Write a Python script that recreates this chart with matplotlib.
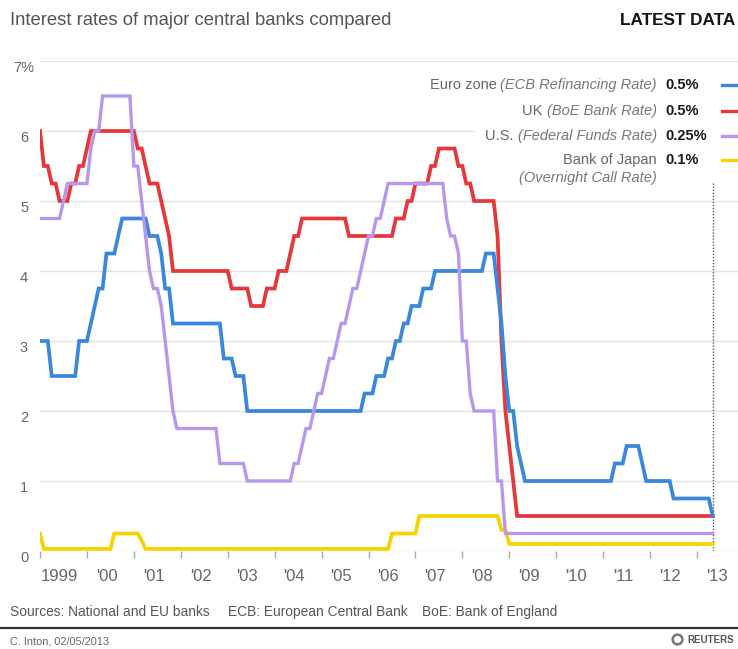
import numpy as np
import matplotlib
matplotlib.use("Agg")
import matplotlib.pyplot as plt
from matplotlib.lines import Line2D
from matplotlib.patches import Rectangle
from matplotlib.text import Annotation

plt.rcParams["font.family"] = ["Liberation Sans", "DejaVu Sans"]

# --- policy rate changes (month the new rate shows up, rate in %) ---
ECB_DATES = ["1999-01", "1999-04", "1999-11", "2000-02", "2000-03", "2000-04", "2000-06",
             "2000-09", "2000-10", "2001-05", "2001-08", "2001-09", "2001-11", "2002-12",
             "2003-03", "2003-06", "2005-12", "2006-03", "2006-06", "2006-08", "2006-10",
             "2006-12", "2007-03", "2007-06", "2008-07", "2008-10", "2008-11", "2008-12",
             "2009-01", "2009-03", "2009-04", "2009-05", "2011-04", "2011-07", "2011-11",
             "2011-12", "2012-07", "2013-05"]
ECB_RATES = [3.0, 2.5, 3.0, 3.25, 3.5, 3.75, 4.25,
             4.5, 4.75, 4.5, 4.25, 3.75, 3.25, 2.75,
             2.5, 2.0, 2.25, 2.5, 2.75, 3.0, 3.25,
             3.5, 3.75, 4.0, 4.25, 3.75, 3.25, 2.5,
             2.0, 1.5, 1.25, 1.0, 1.25, 1.5, 1.25,
             1.0, 0.75, 0.5]

BOE_DATES = ["1999-01", "1999-02", "1999-04", "1999-06", "1999-09", "1999-11", "2000-01",
             "2000-02", "2001-02", "2001-04", "2001-05", "2001-08", "2001-09", "2001-10",
             "2001-11", "2003-02", "2003-07", "2003-11", "2004-02", "2004-05", "2004-06",
             "2004-08", "2005-08", "2006-08", "2006-11", "2007-01", "2007-05", "2007-07",
             "2007-12", "2008-02", "2008-04", "2008-10", "2008-11", "2008-12", "2009-01",
             "2009-02", "2009-03"]
BOE_RATES = [6.0, 5.5, 5.25, 5.0, 5.25, 5.5, 5.75,
             6.0, 5.75, 5.5, 5.25, 5.0, 4.75, 4.5,
             4.0, 3.75, 3.5, 3.75, 4.0, 4.25, 4.5,
             4.75, 4.5, 4.75, 5.0, 5.25, 5.5, 5.75,
             5.5, 5.25, 5.0, 4.5, 3.0, 2.0, 1.5,
             1.0, 0.5]

FED_DATES = ["1999-01", "1999-07", "1999-08", "2000-02", "2000-03", "2000-05", "2001-01",
             "2001-03", "2001-04", "2001-05", "2001-06", "2001-08", "2001-09", "2001-10",
             "2001-11", "2001-12", "2002-11", "2003-06", "2004-06", "2004-08", "2004-09",
             "2004-11", "2004-12", "2005-02", "2005-03", "2005-05", "2005-06", "2005-08",
             "2005-09", "2005-11", "2005-12", "2006-01", "2006-03", "2006-05", "2006-06",
             "2007-09", "2007-10", "2007-12", "2008-01", "2008-03", "2008-04", "2008-10",
             "2008-12"]
FED_RATES = [4.75, 5.0, 5.25, 5.75, 6.0, 6.5, 5.5,
             5.0, 4.5, 4.0, 3.75, 3.5, 3.0, 2.5,
             2.0, 1.75, 1.25, 1.0, 1.25, 1.5, 1.75,
             2.0, 2.25, 2.5, 2.75, 3.0, 3.25, 3.5,
             3.75, 4.0, 4.25, 4.5, 4.75, 5.0, 5.25,
             4.75, 4.5, 4.25, 3.0, 2.25, 2.0, 1.0,
             0.25]

BOJ_DATES = ["1999-01", "1999-02", "2000-08", "2001-03", "2001-04", "2006-07", "2007-02",
             "2008-11", "2009-01"]
BOJ_RATES = [0.25, 0.03, 0.25, 0.15, 0.03, 0.25, 0.5,
             0.3, 0.1]

LAST_MONTH = "2013-05"

SERIES_NAMES = ["Euro zone ", "UK ", "U.S. ", "Bank of Japan"]
SERIES_NOTES = ["(ECB Refinancing Rate)", "(BoE Bank Rate)", "(Federal Funds Rate)", ""]
SERIES_COLORS = ["#3a88de", "#e5383b", "#b797ec", "#f6d200"]

YEARS = list(range(1999, 2014))
YEAR_LABELS = ["1999"] + ["'%02d" % (y % 100) for y in YEARS[1:]]


def month_index(s):
    y, m = s.split("-")
    return (int(y) - 1999) * 12 + int(m) - 1


def monthly(dates, rates, months):
    starts = np.array([month_index(d) for d in dates])
    idx = np.searchsorted(starts, months, side="right") - 1
    return np.asarray(rates)[idx]


months = np.arange(0, month_index(LAST_MONTH) + 1)
x = 1999 + months / 12.0
series = [monthly(ECB_DATES, ECB_RATES, months),
          monthly(BOE_DATES, BOE_RATES, months),
          monthly(FED_DATES, FED_RATES, months),
          monthly(BOJ_DATES, BOJ_RATES, months)]

W, H = 738, 649
fig = plt.figure(figsize=(W / 100, H / 100), dpi=100)


def fx(px):
    return px / W


def fy(py):
    return 1 - py / H


ax = fig.add_axes([fx(40), fy(551), 1 - fx(40), fy(61) - fy(551)])
ax.set_xlim(1999, 1999 + 698 / 46.93)
ax.set_ylim(0, 7)
for s in ax.spines.values():
    s.set_visible(False)

ax.set_yticks(range(8))
ax.set_yticklabels(["0", "1", "2", "3", "4", "5", "6", "7%"])
ax.yaxis.grid(True, color="#e3e3e3", lw=1)
ax.set_axisbelow(True)
ax.tick_params(axis="y", length=0, pad=11.5, labelsize=10.5, labelcolor="#666")
for lab in ax.get_yticklabels():
    lab.set_horizontalalignment("center")
    lab.set_verticalalignment("top")

ax.set_xticks(YEARS)
ax.set_xticklabels([])
ax.set_xticks([y + 0.42 for y in YEARS], minor=True)
ax.set_xticklabels(YEAR_LABELS, minor=True)
ax.tick_params(axis="x", which="major", length=5, width=1, color="#aaaaaa")
ax.tick_params(axis="x", which="minor", length=0, pad=13, labelsize=12, labelcolor="#666")

# drawing order: Japan at the back, then UK, euro zone and U.S.
for i in [3, 1, 0, 2]:
    ax.plot(x, series[i], color=SERIES_COLORS[i], lw=2.4 if i == 2 else 2.7,
            solid_joinstyle="miter", zorder=3)

# dotted marker for the latest data point
ax.vlines(x[-1], 0, 5.3, colors="#555555", linestyles=(0, (1, 1.2)), lw=1, zorder=1.5)

# white panel behind the key
ax.add_patch(Rectangle((fx(476), fy(182)), 1 - fx(476), fy(72) - fy(182),
                       transform=fig.transFigure, facecolor="white", edgecolor="none",
                       clip_on=False, zorder=2))

# key rows
row_y = [85, 111, 136, 160]
for name, note, rate, color, yy in zip(SERIES_NAMES, SERIES_NOTES, series, SERIES_COLORS, row_y):
    if note:
        t = fig.text(fx(657), fy(yy), note, ha="right", va="center", style="italic",
                     fontsize=10.5, color="#777", zorder=5)
        fig.add_artist(Annotation(name, xy=(0, 0.5), xycoords=t,
                                  xytext=(0, 0), textcoords="offset points",
                                  ha="right", va="center", fontsize=10.5,
                                  color="#666", zorder=5))
    else:
        fig.text(fx(657), fy(yy), name, ha="right", va="center", fontsize=10.5,
                 color="#666", zorder=5)
    fig.text(fx(665), fy(yy), "%g%%" % rate[-1], ha="left", va="center", fontsize=10.5,
             weight="bold", color="#1a1a1a", zorder=5)
    fig.add_artist(Line2D([fx(722), fx(737)], [fy(yy), fy(yy)], color=color, lw=2.4,
                          transform=fig.transFigure))
fig.text(fx(657), fy(178), "(Overnight Call Rate)", ha="right", va="center", style="italic",
         fontsize=10.5, color="#777", zorder=5)

# header
fig.text(fx(10), fy(25), "Interest rates of major central banks compared", ha="left",
         va="baseline", fontsize=13.3, color="#555")
fig.text(fx(735), fy(25), "LATEST DATA", ha="right", va="baseline", fontsize=12.3,
         weight="bold", color="#111")

# footer
fig.text(fx(10), fy(616), "Sources: National and EU banks", va="baseline", fontsize=9.9,
         color="#555")
fig.text(fx(228), fy(616), "ECB: European Central Bank", va="baseline", fontsize=9.9,
         color="#555")
fig.text(fx(422), fy(616), "BoE: Bank of England", va="baseline", fontsize=9.9,
         color="#555")
fig.add_artist(Line2D([0, 1], [fy(628), fy(628)], color="#333333", lw=1.6,
                      transform=fig.transFigure))
fig.text(fx(10), fy(645), "C. Inton, 02/05/2013", va="baseline", fontsize=7.9, color="#666")
fig.add_artist(Line2D([fx(677)], [fy(639)], marker="o", markersize=7, markerfacecolor="none",
                      markeredgecolor="#777", markeredgewidth=1.8, transform=fig.transFigure))
fig.text(fx(734), fy(643), "REUTERS", ha="right", va="baseline", fontsize=7.0,
         weight="bold", color="#555")

fig.savefig("out.png", dpi=100)
